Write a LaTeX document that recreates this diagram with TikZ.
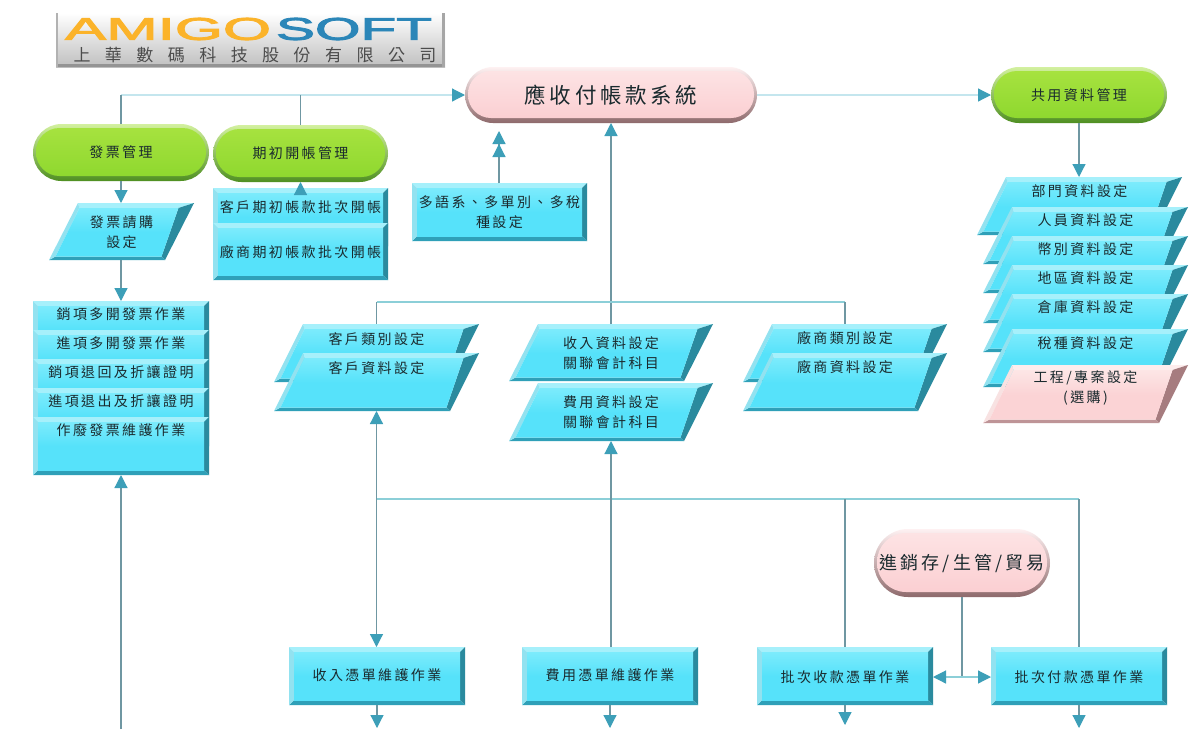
\documentclass[tikz,border=0pt]{standalone}
\usepackage{fontspec}
\usepackage{graphicx}
\usetikzlibrary{arrows.meta}
\newfontfamily\cjk[LetterSpace=17]{Noto Sans CJK TC}
\newfontfamily\cjkwide[LetterSpace=85]{Noto Sans CJK TC}
\newfontfamily\logofont[FakeBold=2.5]{Liberation Sans}
\definecolor{cyBase}{HTML}{56E2FA}
\definecolor{cyTop}{HTML}{A6F0FB}
\definecolor{cyLeft}{HTML}{92E2F0}
\definecolor{cyRight}{HTML}{2A8A9E}
\definecolor{cyBot}{HTML}{2FA0B8}
\definecolor{cyHi}{HTML}{7CEBFC}
\definecolor{pkBase}{HTML}{FBD3D5}
\definecolor{pkTop}{HTML}{FDEDED}
\definecolor{pkLeft}{HTML}{F8E2E2}
\definecolor{pkRight}{HTML}{A67C7F}
\definecolor{pkBot}{HTML}{BE9497}
\definecolor{pkHi}{HTML}{FDE6E6}
\definecolor{lineV}{HTML}{6F97A2}
\definecolor{lineH}{HTML}{8CCFD8}
\definecolor{lineL}{HTML}{C4E6EE}
\definecolor{headC}{HTML}{3D9FB8}
\definecolor{inkC}{HTML}{1A2A2E}
\definecolor{grLight}{HTML}{A6E23F}
\definecolor{grMain}{HTML}{8FD82F}
\definecolor{grDark}{HTML}{4F8F22}
\definecolor{piLight}{HTML}{FDE3E4}
\definecolor{piMain}{HTML}{FBCFD2}
\definecolor{piDark}{HTML}{8E6A6C}
\definecolor{logoOr}{HTML}{FBB32A}
\definecolor{logoBl}{HTML}{2B86B8}
\tikzset{
  x=1pt,y=-1pt,
  anchorbox/.style={inner sep=0pt,outer sep=0pt},
  txt/.style={anchor=center,align=center,inner sep=0pt,text=inkC,font=\cjk\fontsize{14}{20}\selectfont},
  vl/.style={draw=lineV,line width=1.2pt},
  hl/.style={draw=lineH,line width=1.2pt},
  ll/.style={draw=lineL,line width=1.2pt},
  tip/.style={-{Triangle[length=13pt,width=13pt,color=headC,fill=headC]}},
  tipb/.style={{Triangle[length=13pt,width=13pt,color=headC,fill=headC]}-{Triangle[length=13pt,width=13pt,color=headC,fill=headC]}},
}
% name, xl, yt, xr, yb, slant, palette, text y, text
\newcommand{\bev}[9]{%
  \pgfmathsetmacro{\pd}{5}%
  \pgfmathsetmacro{\ph}{#5-#3}%
  \pgfmathsetmacro{\tlx}{#2+#6}\pgfmathsetmacro{\trx}{#4}%
  \pgfmathsetmacro{\brx}{#4-#6}\pgfmathsetmacro{\blx}{#2}%
  \pgfmathsetmacro{\psl}{#6*\pd/\ph}%
  \pgfmathsetmacro{\itlx}{\tlx-\psl+(#6>0?4:\pd)}%
  \pgfmathsetmacro{\itrx}{\trx-\psl-(#6>0?13:\pd)}%
  \pgfmathsetmacro{\ibrx}{\brx+\psl-(#6>0?6:\pd)}%
  \pgfmathsetmacro{\iblx}{\blx+\psl+(#6>0?4:\pd)}%
  \pgfmathsetmacro{\ity}{#3+\pd}\pgfmathsetmacro{\iby}{#5-(#6>0?3.5:\pd)}%
  \fill[#7Top] (\tlx,#3) -- (\trx,#3) -- (\itrx,\ity) -- (\itlx,\ity) -- cycle;
  \fill[#7Right] (\trx,#3) -- (\brx,#5) -- (\ibrx,\iby) -- (\itrx,\ity) -- cycle;
  \fill[#7Bot] (\brx,#5) -- (\blx,#5) -- (\iblx,\iby) -- (\ibrx,\iby) -- cycle;
  \fill[#7Left] (\blx,#5) -- (\tlx,#3) -- (\itlx,\ity) -- (\iblx,\iby) -- cycle;
  \shade[top color=#7Hi,bottom color=#7Base,middle color=#7Base] (\itlx,\ity) -- (\itrx,\ity) -- (\ibrx,\iby) -- (\iblx,\iby) -- cycle;
  \node[anchorbox,minimum width={(#4-#2)*1pt},minimum height={(#5-#3)*1pt}] (#1) at ({(#2+#4)/2},{(#3+#5)/2}) {};
  \node[txt] (#1-t) at ({(#2+#4)/2},#8) {#9};
}
% name, xl, yt, xr, yb, light, main, dark, text
\newcommand{\pillshape}[9]{%
  \pgfmathsetmacro{\pr}{(#5-#3)/2}%
  \shade[top color=#6!50!white,bottom color=#8,rounded corners=\pr pt] (#2,#3) rectangle (#4,#5);
  \pgfmathsetmacro{\pa}{#2+3}\pgfmathsetmacro{\pb}{#4-3}\pgfmathsetmacro{\pc}{#3+4}\pgfmathsetmacro{\pe}{#5-5}\pgfmathsetmacro{\prr}{\pr-5}%
  \shade[top color=#6,bottom color=#7,rounded corners=\prr pt] (\pa,\pc) rectangle (\pb,\pe);
  \node[anchorbox,minimum width={(#4-#2)*1pt},minimum height={(#5-#3)*1pt}] (#1) at ({(#2+#4)/2},{(#3+#5)/2}) {};
  \node[txt] (#1-t) at (#1.center) {#9};
}
\begin{document}
\begin{tikzpicture}
\useasboundingbox (0,0) rectangle (1200,729);
\fill[white] (0,0) rectangle (1200,729);
% logo
\shade[top color=white,bottom color=black!25] (56,13) rectangle (445,67);
\fill[black!42] (56,64) rectangle (445,67);
\fill[black!35] (442,13) rectangle (445,67);
\fill[black!30] (56,13) rectangle (58,67);
\node[anchorbox,text=logoOr] (logoA) at (168,29) {\resizebox{206pt}{22pt}{\logofont AMIGO}};
\node[anchorbox,text=logoBl] (logoB) at (354,29) {\resizebox{156pt}{22pt}{\logofont SOFT}};
\node[anchorbox,text=black!70] (logoC) at (255,55) {\cjkwide\fontsize{17}{19}\selectfont 上華數碼科技股份有限公司};
% pills
\pillshape{main}{465}{67}{757}{123}{piLight}{piMain}{piDark}{\cjk\fontsize{21.5}{24}\selectfont 應收付帳款系統}
\pillshape{common}{991}{67}{1167}{123}{grLight}{grMain}{grDark}{共用資料管理}
\pillshape{invmgr}{33}{124}{209}{181}{grLight}{grMain}{grDark}{發票管理}
\pillshape{openmgr}{213}{125}{388}{182}{grLight}{grMain}{grDark}{期初開帳管理}
\pillshape{scm}{874}{529}{1050}{597}{piLight}{piMain}{piDark}{\cjk\fontsize{18}{20}\selectfont 進銷存/生管/貿易}
% left column
\bev{invbuy}{49}{203}{194}{260}{29}{cy}{232}{發票請購\\設定}
\bev{s1}{33}{301}{209}{359}{0}{cy}{314}{銷項多開發票作業}
\bev{s2}{33}{330}{209}{388}{0}{cy}{343}{進項多開發票作業}
\bev{s3}{33}{359}{209}{417}{0}{cy}{372}{銷項退回及折讓證明}
\bev{s4}{33}{388}{209}{446}{0}{cy}{401}{進項退出及折讓證明}
\bev{s5}{33}{417}{209}{475}{0}{cy}{430}{作廢發票維護作業}
% opening
\bev{op1}{213}{188}{388}{246}{0}{cy}{207}{客戶期初帳款批次開帳}
\bev{op2}{213}{223}{388}{280}{0}{cy}{252}{廠商期初帳款批次開帳}
\bev{multi}{412}{183}{587}{241}{0}{cy}{212}{多語系、多單別、多稅\\種設定}
% middle parallelograms
\bev{c1}{274}{324}{479}{382}{29}{cy}{339}{客戶類別設定}
\bev{c2}{274}{353}{479}{411}{29}{cy}{368}{客戶資料設定}
\bev{r1}{509}{324}{713}{381}{29}{cy}{353}{收入資料設定\\關聯會計科目}
\bev{r2}{509}{383}{713}{441}{29}{cy}{412}{費用資料設定\\關聯會計科目}
\bev{v1}{743}{324}{947}{382}{29}{cy}{338}{廠商類別設定}
\bev{v2}{743}{353}{947}{411}{29}{cy}{367}{廠商資料設定}
% right stack
\bev{d1}{977}{177}{1182}{235}{29}{cy}{191}{部門資料設定}
\bev{d2}{983}{207}{1188}{264}{29}{cy}{220}{人員資料設定}
\bev{d3}{983}{236}{1188}{293}{29}{cy}{249}{幣別資料設定}
\bev{d4}{983}{265}{1188}{323}{29}{cy}{278}{地區資料設定}
\bev{d5}{983}{294}{1188}{352}{29}{cy}{307}{倉庫資料設定}
\bev{d6}{983}{329}{1188}{387}{29}{cy}{343}{稅種資料設定}
\bev{d7}{983}{365}{1188}{423}{29}{pk}{388}{工程/專案設定\\(選購)}
% bottom
\bev{b1}{289}{647}{465}{705}{0}{cy}{675}{收入憑單維護作業}
\bev{b2}{522}{647}{698}{705}{0}{cy}{675}{費用憑單維護作業}
\bev{b3}{757}{647}{933}{705}{0}{cy}{677}{批次收款憑單作業}
\bev{b4}{991}{647}{1167}{705}{0}{cy}{677}{批次付款憑單作業}
% junctions
\coordinate (t1) at (121,95);
\coordinate (t2) at (300.5,95);
\coordinate (m1) at (376.5,302);
\coordinate (m3) at (845,302);
\coordinate (j1) at (376.5,499);
\coordinate (j3) at (845,499);
\coordinate (j4) at (1079,499);
\coordinate (scmj) at (962,677);
\coordinate (e0) at (121,729);
\coordinate (e1) at (377,728);
\coordinate (e2) at (610,728);
\coordinate (e3) at (845,725);
\coordinate (e4) at (1079,728);
\coordinate (mh) at (499,131);
\coordinate (mh2) at (499,144);
% connectors
\draw[ll,tip] (t1) -- (main.west);
\draw[vl] (invmgr.north) -- (invmgr.north |- t1);
\draw[vl] (openmgr.north) -- (openmgr.north |- t2);
\draw[ll,tip] (main.east) -- (common.west);
\draw[vl,tip] (common.south) -- (d1.north -| common.south);
\draw[vl,tip] (invmgr.south) -- (invbuy.north -| invmgr.south);
\draw[vl,tip] (invbuy.south -| invmgr.south) -- (s1.north);
\draw[vl,tip] (e0) -- (s5.south);
\draw[vl,tip] (op1.north) -- (openmgr.south);
\draw[vl,tip] (multi.north -| mh) -- (mh);
\draw[vl,tip] (multi.north -| mh) -- (mh2);
\draw[vl,tip] (r1.north) -- (main.south);
\draw[hl] (m1) -- (m3);
\draw[vl] (m1) -- (c1.north);
\draw[vl] (m3) -- (v1.north);
\draw[hl] (j1) -- (j4);
\draw[vl,tipb] (c2.south) -- (b1.north -| c2.south);
\draw[vl,tip] (b2.north -| r2.south) -- (r2.south);
\draw[vl] (j3) -- (b3.north -| j3);
\draw[vl] (j4) -- (b4.north -| j4);
\draw[vl] (scm.south -| scmj) -- (scmj);
\draw[hl,tipb] (b3.east |- scmj) -- (b4.west |- scmj);
\draw[vl,tip] (b1.south -| e1) -- (e1);
\draw[vl,tip] (b2.south -| e2) -- (e2);
\draw[vl,tip] (b3.south -| e3) -- (e3);
\draw[vl,tip] (b4.south -| e4) -- (e4);
\end{tikzpicture}
\end{document}
